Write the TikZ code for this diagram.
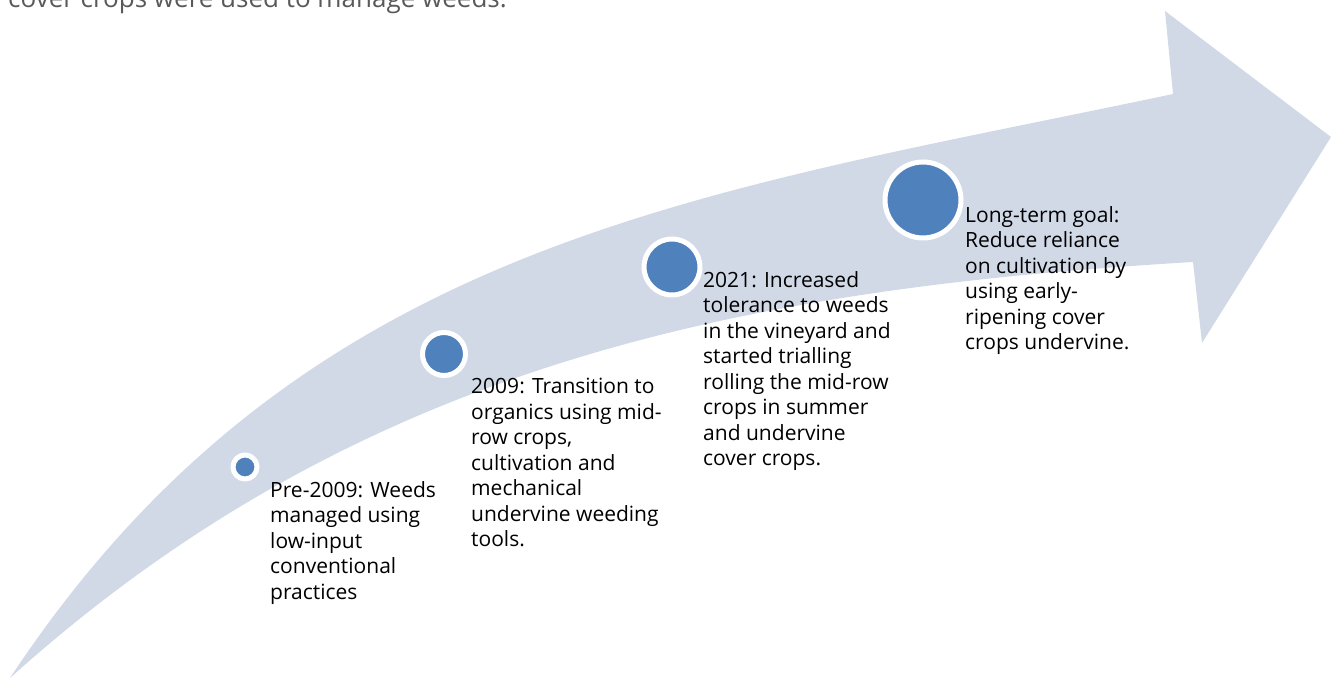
\documentclass[tikz,border=0pt]{standalone}
\usepackage{fontspec}
\setmainfont{Open Sans}
\definecolor{shaftfill}{HTML}{D1D9E7}
\definecolor{dotblue}{HTML}{4F81BD}
\definecolor{introgray}{HTML}{595959}

\begin{document}
\begin{tikzpicture}[x=1pt, y=1pt,
  dot/.style={draw=white, line width=5pt, circle, fill=dotblue, inner sep=0pt},
  stage/.style={anchor=north west, inner sep=0pt, align=left, font=\fontsize{21}{25.5}\selectfont, text=black},
  intro/.style={anchor=base west, inner sep=0pt, font=\fontsize{26}{30}\selectfont, text=introgray}
]
\useasboundingbox (0,0) rectangle (1331,679);

% curved timeline arrow
\coordinate (tail) at (10,1);
\coordinate (topjoin) at (1173,585);
\coordinate (botjoin) at (1193,417);
\fill[shaftfill] (tail) .. controls (300,440) and (700,485) .. (topjoin)
  -- (1165,668) -- (1331,542) -- (1202,336) -- (botjoin)
  .. controls (743,390) and (360,316) .. (tail) -- cycle;

\node[intro] (intro) at (8,671) {cover crops were used to manage weeds.};

\node[dot, minimum size=24pt] (pre) at (245,212) {};
\node[dot, minimum size=43pt] (organic) at (444,325) {};
\node[dot, minimum size=56pt] (tolerance) at (672,412) {};
\node[dot, minimum size=76pt] (goal) at (923,479) {};

\node[stage] (pretext) at (270,198) {Pre-2009: Weeds\\managed using\\low-input\\conventional\\practices};
\node[stage] (organictext) at (471,301) {2009: Transition to\\organics using mid-\\row crops,\\cultivation and\\mechanical\\undervine weeding\\tools.};
\node[stage] (tolerancetext) at (703,408) {2021: Increased\\tolerance to weeds\\in the vineyard and\\started trialling\\rolling the mid-row\\crops in summer\\and undervine\\cover crops.};
\node[stage] (goaltext) at (965,473) {Long-term goal:\\Reduce reliance\\on cultivation by\\using early-\\ripening cover\\crops undervine.};
\end{tikzpicture}
\end{document}
